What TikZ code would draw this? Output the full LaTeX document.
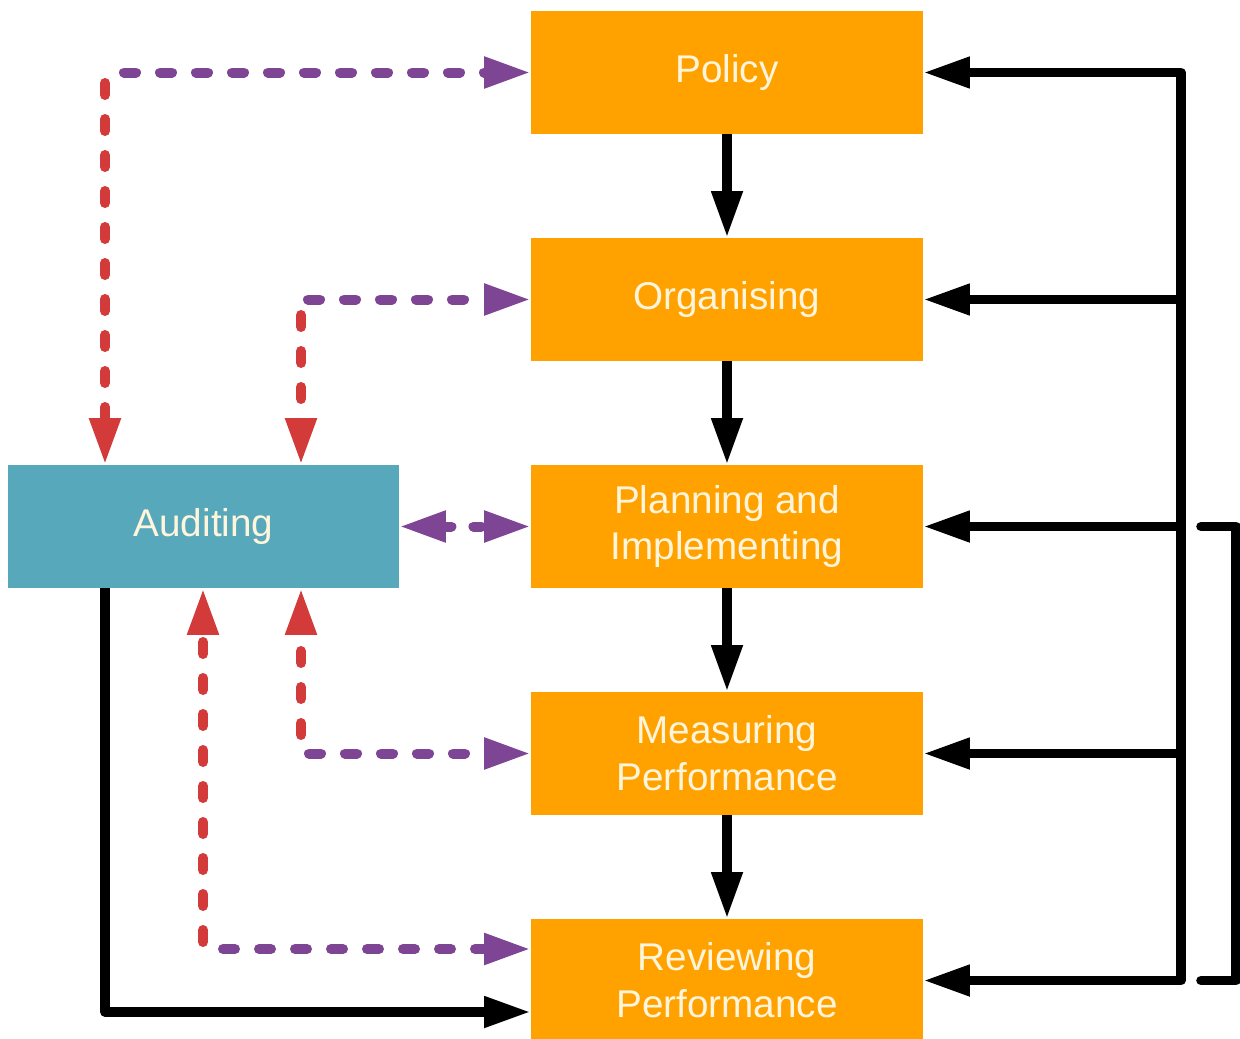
\documentclass[tikz,border=0pt]{standalone}
\usepackage{fontspec}
\setmainfont{Liberation Sans}
\usetikzlibrary{arrows.meta}
\definecolor{boxorange}{HTML}{FFA200}
\definecolor{auditteal}{HTML}{58A8BB}
\definecolor{labelcream}{HTML}{FFF5DC}
\definecolor{flowpurple}{HTML}{7E4595}
\definecolor{flowred}{HTML}{D33A3A}
\begin{document}
\begin{tikzpicture}[x=0.75pt,y=-0.75pt,
  box/.style={minimum width=294pt, minimum height=92.25pt, inner sep=0pt,
    text=labelcream, align=center, font=\fontsize{29}{35}\selectfont},
  stage/.style={box, fill=boxorange},
  audit/.style={box, fill=auditteal, minimum width=293.25pt},
  tip/.style={-{Triangle[length=35pt, width=22pt]}},
  flow/.style={draw=black, line width=7.2pt, line join=round, tip},
  dashline/.style={line width=7.5pt, line cap=round, dash pattern=on 9pt off 18pt},
  purplelink/.style={dashline, draw=flowpurple, -{Triangle[length=35pt, width=22pt]}},
  redlink/.style={dashline, draw=flowred, -{Triangle[length=35pt, width=22pt]}}
]
\useasboundingbox (0,0) rectangle (1240,1039);

% process stages
\node[stage] (policy)    at (727,72.5)  {Policy};
\node[stage] (organise)  at (727,299.5) {Organising};
\node[stage] (plan)      at (727,526.5) {Planning and\\Implementing};
\node[stage] (measure)   at (727,753.5) {Measuring\\Performance};
\node[stage] (review)    at (727,980.5) {Reviewing\\Performance};
\node[audit] (auditing)  at (203.5,526.5) {Auditing};

% main sequence
\draw[flow] (policy.south) -- (organise.north);
\draw[flow] (organise.south) -- (plan.north);
\draw[flow] (plan.south) -- (measure.north);
\draw[flow] (measure.south) -- (review.north);

% feedback bus on the right
\coordinate (busTop) at (1181,72.5);
\coordinate (busBot) at (1181,980.5);
\draw[flow, {Triangle[length=35pt, width=22pt]}-{Triangle[length=35pt, width=22pt]}]
  (policy.east) -- (busTop) -- (busBot) -- (review.east);
\draw[flow] (organise.east -| busTop) -- (organise.east);
\draw[flow] (plan.east -| busTop) -- (plan.east);
\draw[flow] (measure.east -| busTop) -- (measure.east);

% bracket at the right edge
\coordinate (brA) at (1201,526.5);
\coordinate (brB) at (1236,526.5);
\coordinate (brC) at (1236,980.5);
\coordinate (brD) at (1201,980.5);
\draw[line width=7.2pt, line cap=round, line join=round] (brA) -- (brB) -- (brC) -- (brD);

% auditing output to review
\coordinate (audOut) at (105,1012);
\draw[flow] (auditing.south -| audOut) -- (audOut) -- (audOut -| review.west);

% audit links: policy
\coordinate (pPol) at (124,72.5);
\coordinate (rPol) at (105,83);
\draw[purplelink] (pPol) -- (policy.west);
\draw[redlink] (rPol) -- (rPol |- auditing.north);

% audit links: organising
\coordinate (pOrg) at (308,299.5);
\coordinate (rOrg) at (301,315);
\draw[purplelink] (pOrg) -- (organise.west);
\draw[redlink] (rOrg) -- (rOrg |- auditing.north);

% audit links: planning (two-way)
\draw[dashline, draw=flowpurple, dash pattern=on 6pt off 16.5pt,
  {Triangle[length=35pt, width=22pt]}-{Triangle[length=35pt, width=22pt]}]
  (auditing.east) -- (plan.west);

% audit links: measuring
\coordinate (pMea) at (309,753.5);
\coordinate (rMea) at (301,735);
\draw[purplelink] (pMea) -- (measure.west);
\draw[redlink] (rMea) -- (rMea |- auditing.south);

% audit links: reviewing
\coordinate (pRev) at (223,949);
\coordinate (rRev) at (203,942);
\draw[purplelink] (pRev) -- (pRev -| review.west);
\draw[redlink] (rRev) -- (rRev |- auditing.south);
\end{tikzpicture}
\end{document}
